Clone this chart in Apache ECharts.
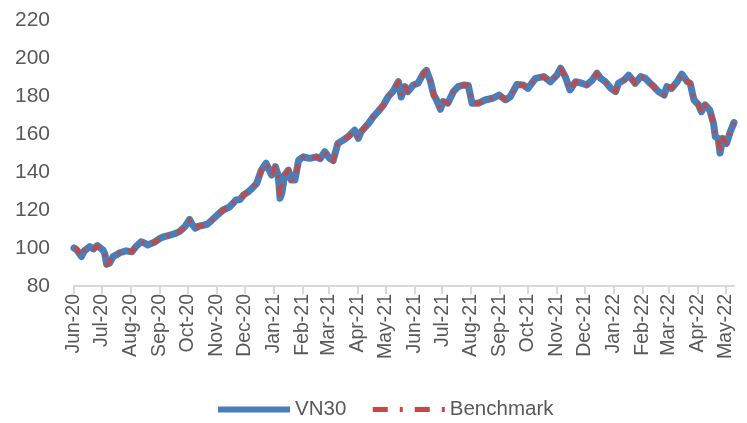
<!DOCTYPE html>
<html>
<head>
<meta charset="utf-8">
<script src="https://cdn.jsdelivr.net/npm/echarts@6/dist/echarts.min.js"></script>
<style>
html,body{margin:0;padding:0;background:#fff;}
#chart{width:747px;height:423px;}
</style>
</head>
<body>
<div id="chart"></div>
<script>
// ---- data ----
const dates = [
"2020-06-01","2020-06-04","2020-06-09","2020-06-12","2020-06-18","2020-06-22","2020-06-26",
"2020-07-02","2020-07-04","2020-07-06","2020-07-09","2020-07-13","2020-07-17","2020-07-20","2020-07-27",
"2020-08-02","2020-08-06","2020-08-12","2020-08-16","2020-08-19","2020-08-26",
"2020-09-01","2020-09-06","2020-09-12","2020-09-17","2020-09-22","2020-09-28",
"2020-10-03","2020-10-05","2020-10-09","2020-10-13","2020-10-18","2020-10-22","2020-10-27",
"2020-11-01","2020-11-08","2020-11-15","2020-11-22","2020-11-26","2020-11-30",
"2020-12-05","2020-12-09","2020-12-14","2020-12-19","2020-12-24","2020-12-26","2020-12-30",
"2021-01-03","2021-01-06","2021-01-08","2021-01-10","2021-01-13","2021-01-17","2021-01-20","2021-01-24","2021-01-28",
"2021-02-02","2021-02-06","2021-02-09","2021-02-16","2021-02-20","2021-02-25",
"2021-03-02","2021-03-06","2021-03-11","2021-03-17","2021-03-22","2021-03-29",
"2021-04-02","2021-04-05","2021-04-13","2021-04-18","2021-04-23","2021-04-29",
"2021-05-04","2021-05-09","2021-05-15","2021-05-18","2021-05-22","2021-05-25","2021-05-31",
"2021-06-05","2021-06-11","2021-06-14","2021-06-18","2021-06-22","2021-06-25","2021-06-29",
"2021-07-02","2021-07-07","2021-07-13","2021-07-18","2021-07-24","2021-07-29",
"2021-08-02","2021-08-09","2021-08-16","2021-08-24","2021-08-31",
"2021-09-07","2021-09-12","2021-09-19","2021-09-26",
"2021-10-01","2021-10-09","2021-10-18","2021-10-25",
"2021-11-01","2021-11-05","2021-11-10","2021-11-15","2021-11-21","2021-11-28",
"2021-12-03","2021-12-09","2021-12-14","2021-12-18","2021-12-23","2021-12-29",
"2022-01-03","2022-01-06","2022-01-12","2022-01-17","2022-01-19","2022-01-24","2022-01-30",
"2022-02-04","2022-02-09","2022-02-13","2022-02-18","2022-02-24","2022-02-27",
"2022-03-04","2022-03-10","2022-03-15","2022-03-21","2022-03-24","2022-03-28",
"2022-04-02","2022-04-05","2022-04-09","2022-04-14","2022-04-18","2022-04-20","2022-04-23","2022-04-25","2022-04-28",
"2022-05-02","2022-05-06","2022-05-10"
];
const vn30 = [
100,99,95.5,98.5,100.7,99.5,101.3,
99,97,91.5,92,95.5,96.5,97.5,98.5,
98,100.5,103.3,102.5,101.6,103,
105,106,106.8,107.5,108.6,111.2,
115,113,110.4,111.5,112,112.5,114.7,
117,120,121.7,125.3,125.5,127.9,
129.6,131.4,134,141,144.6,144.6,138.4,
142.8,138.4,126.2,128.8,138.4,141,135.8,135.8,146.3,
148,147.5,147.2,148,147,150.7,
147.2,146,155,156.8,158.6,162,
157.7,161.2,165.6,169,171.7,175.3,
179.6,182.3,187.5,179.5,184.9,182.3,185.8,
186.7,192,193.5,188.4,180.5,177.9,173,
177,176.2,182.3,184.9,185.8,185.5,
176.2,176.2,177.9,178.8,180.5,
178,179.6,186,185.8,
184,189.3,190.2,187.5,
191,194.6,190.2,183.2,187.5,186.7,
185.8,188.4,192,189.3,187.5,184,
182.3,186.7,188.4,191,191.5,186.7,190.2,
189.3,186.7,184.9,182.3,180.5,184.9,
184,187.5,191.5,187.5,186.7,178,
175.3,171.7,175.3,172.6,165.6,158.6,157.7,150,157.7,
155,161.2,166
];
const benchmark = [
100,99.5,95.5,98.5,100.5,99.5,101,
99,97,91,92.5,95.5,96.5,97.5,98.5,
98,100.5,103,102.5,101.6,103,
105,106,106.8,107.5,108.6,111,
114.5,113,110.4,111.5,112,112.5,114.5,
117,120,121.7,125.3,125.5,127.9,
129.6,131.4,134,141,144.3,144.3,138.4,
142.5,138.4,128,129,138.4,141,135.8,135.8,146,
147.8,147.5,147.2,148,147,150.5,
147.2,145.5,155,156.8,158.6,161.5,
157.7,161.2,165.6,169,171.7,175.3,
179.6,182.3,187.3,180,184.9,182.3,185.8,
186.7,191.8,193,188.4,180.5,177.9,173,
177,176.2,182.3,184.9,185.8,185.5,
176.2,176.2,177.9,178.8,180.5,
178,179.6,186,185.8,
184,189.3,190.2,187.5,
191,194.3,190.2,183.2,187.5,186.7,
185.8,188.4,191.8,189.3,187.5,184,
182.3,186.7,188.4,191,191.3,186.7,190.2,
189.3,186.7,184.9,182.3,180.5,184.9,
184,187.5,191.3,187.5,186.7,178,
175.3,171.7,175.3,172.6,165.6,158.6,157.7,149.5,157.7,
155,161.2,166
];
const tickDates = [
"2020-06-01","2020-07-01","2020-08-01","2020-09-01","2020-10-01","2020-11-01","2020-12-01",
"2021-01-01","2021-02-01","2021-03-01","2021-04-01","2021-05-01","2021-06-01","2021-07-01",
"2021-08-01","2021-09-01","2021-10-01","2021-11-01","2021-12-01",
"2022-01-01","2022-02-01","2022-03-01","2022-04-01","2022-05-01"
];
const monthNames = ["Jan","Feb","Mar","Apr","May","Jun","Jul","Aug","Sep","Oct","Nov","Dec"];
const seriesNames = ["VN30","Benchmark"];
const axisStart = "2020-06-01";
const axisEnd = "2022-05-10";

// ---- build ----
// x values are day numbers (days since 1970-01-01, UTC)
function dayNum(s){ const p = s.split('-').map(Number); return Date.UTC(p[0], p[1]-1, p[2]) / 86400000; }
function fmt(v){ const d = new Date(Math.round(v) * 86400000); return monthNames[d.getUTCMonth()] + '-' + String(d.getUTCFullYear()).slice(2); }
const tickDays = tickDates.map(dayNum);
const FONT = "'Liberation Sans', Arial, sans-serif";
const BLUE = '#4a7ebb', RED = '#be4b48';

const chart = echarts.init(document.getElementById('chart'), null, {renderer:'canvas'});
chart.setOption({
  animation:false,
  backgroundColor:'#ffffff',
  grid:{left:74, right:13, top:20, bottom:137, containLabel:false},
  legend:{
    left:215, top:399, padding:0,
    itemWidth:72, itemHeight:14, itemGap:24,
    textStyle:{fontFamily:FONT, fontSize:20.5, color:'#595959'},
    data:[
      {name:seriesNames[0], itemStyle:{opacity:0}, lineStyle:{color:BLUE, width:6, cap:'butt'}},
      {name:seriesNames[1], itemStyle:{opacity:0}, lineStyle:{color:RED, width:5, type:[15,12,3,12], cap:'butt'}}
    ]
  },
  xAxis:{
    type:'value',
    min:dayNum(axisStart), max:dayNum(axisEnd),
    axisLine:{show:true, lineStyle:{color:'#d9d9d9', width:2}},
    axisTick:{show:true, length:8, lineStyle:{color:'#d9d9d9', width:2}, customValues:tickDays},
    axisLabel:{
      customValues:tickDays,
      rotate:90, margin:8,
      fontFamily:FONT, fontSize:19.5, color:'#595959',
      formatter:fmt
    },
    splitLine:{show:false}
  },
  yAxis:{
    type:'value', min:80, max:220, interval:20,
    axisLine:{show:false}, axisTick:{show:false}, splitLine:{show:false},
    axisLabel:{fontFamily:FONT, fontSize:21, color:'#595959', margin:24}
  },
  series:[
    {
      name:seriesNames[0], type:'line', showSymbol:false, symbol:'none',
      data:dates.map((d,i)=>[dayNum(d), vn30[i]]),
      lineStyle:{color:BLUE, width:7, join:'round', cap:'round'},
      itemStyle:{color:BLUE}, z:2
    },
    {
      name:seriesNames[1], type:'line', showSymbol:false, symbol:'none',
      data:dates.map((d,i)=>[dayNum(d), benchmark[i]]),
      lineStyle:{color:RED, width:4.5, type:[9,8,3,8], join:'round'},
      itemStyle:{color:RED}, z:3
    }
  ]
});
</script>
</body>
</html>
